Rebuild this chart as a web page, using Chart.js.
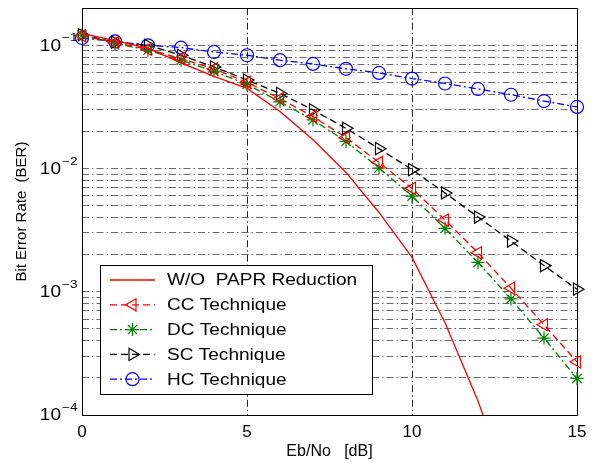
<!DOCTYPE html>
<html><head><meta charset="utf-8">
<script src="https://cdn.jsdelivr.net/npm/chart.js@4.4.0/dist/chart.umd.min.js"></script>
<style>html,body{margin:0;padding:0;background:#fff}#wrap{width:594px;height:463px}</style>
</head><body><div id="wrap"><canvas id="c" width="594" height="463"></canvas></div>
<script>
// ---- data ----
const ebNo = [0,1,2,3,4,5,6,7,8,9,10,11,12,13,14,15];
const berWithoutPAPR = [0.125,0.109,0.095,0.072,0.056,0.0447,0.029,0.0171,0.0093,0.0044,0.0019,0.00056,0.00013,0.000023,0.000003,0.0000003];
const berCC = [0.120,0.105,0.093,0.078,0.0644,0.050,0.0369,0.0264,0.0178,0.0112,0.0069,0.00382,0.00207,0.00107,0.00054,0.00027];
const berDC = [0.121,0.104,0.091,0.0757,0.0617,0.0481,0.0348,0.0248,0.0166,0.0101,0.00597,0.00327,0.00173,0.000875,0.000421,0.000198];
const berSC = [0.1218,0.106,0.100,0.083,0.0668,0.0522,0.0407,0.0299,0.0212,0.0145,0.0098,0.00634,0.00404,0.00258,0.00163,0.00105];
const berHC = [0.1146,0.1076,0.100,0.0957,0.0883,0.083,0.0757,0.0706,0.0644,0.0597,0.0537,0.049,0.0442,0.0397,0.0353,0.0316];
const seriesNames = ['W/O  PAPR Reduction','CC Technique','DC Technique','SC Technique','HC Technique'];
const xTickValues = [0,5,10,15];
const yDecades = [1e-4,1e-3,1e-2,1e-1];
const yExponents = ['\u22124','\u22123','\u22122','\u22121'];
const xTitle = 'Eb/No   [dB]';
const yTitle = 'Bit Error Rate  (BER)';

const pts = arr => ebNo.map((x,i)=>({x:x, y:arr[i]}));
const SX = 1.17; // horizontal stretch of the reference lettering

function stretchedText(ctx, txt, x, y, size, align, baseline){
  ctx.save();
  ctx.font = size + 'px "Liberation Sans", Arial, sans-serif';
  ctx.textAlign = align; ctx.textBaseline = baseline;
  ctx.fillStyle = '#000';
  ctx.translate(x, y); ctx.scale(SX, 1);
  ctx.fillText(txt, 0, 0);
  ctx.restore();
}

const decorPlugin = {
  id: 'decor',
  beforeDatasetsDraw(chart){
    const {ctx, chartArea:a} = chart;
    ctx.save();
    ctx.strokeStyle = '#000'; ctx.lineWidth = 1;
    ctx.strokeRect(Math.round(a.left)+0.5, Math.round(a.top)+0.5, Math.round(a.right-a.left), Math.round(a.bottom-a.top));
    ctx.restore();
  },
  afterDraw(chart){
    const {ctx} = chart;
    const ys = chart.scales.y;
    // y tick labels: 10 with superscript exponent
    yDecades.forEach((v,i)=>{
      const py = ys.getPixelForValue(v);
      stretchedText(ctx, '10', 61, py+1, 16.3, 'right', 'middle');
      stretchedText(ctx, yExponents[i], 62, py-4, 11.6, 'left', 'alphabetic');
    });
    // legend
    const L = {x:100, y:265, w:272, h:129};
    ctx.save();
    ctx.fillStyle = '#fff';
    ctx.fillRect(L.x, L.y, L.w, L.h);
    ctx.strokeStyle = '#000'; ctx.lineWidth = 1;
    ctx.strokeRect(L.x+0.5, L.y+0.5, L.w, L.h);
    ctx.restore();
    chart.data.datasets.forEach((ds,i)=>{
      const ry = 280 + i*24.8;
      ctx.save();
      ctx.strokeStyle = ds.borderColor; ctx.lineWidth = ds.borderWidth;
      ctx.setLineDash(ds.borderDash || []);
      ctx.beginPath(); ctx.moveTo(110, ry); ctx.lineTo(155, ry); ctx.stroke();
      ctx.setLineDash([]);
      if (ds.pointRadius > 0) {
        ctx.strokeStyle = ds.pointBorderColor; ctx.fillStyle = 'rgba(0,0,0,0)';
        ctx.lineWidth = ds.pointBorderWidth;
        Chart.helpers.drawPoint(ctx, {pointStyle: ds.pointStyle, rotation: ds.pointRotation||0, radius: ds.pointRadius, borderWidth: ds.pointBorderWidth}, 132.5, ry);
      }
      ctx.restore();
      stretchedText(ctx, ds.label, 167, ry+1, 16.3, 'left', 'middle');
    });
  }
};

const markerSet = (label, data, color, dash, style, rot, r) => ({
  label, data: pts(data), borderColor: color, borderWidth: 1.3, borderDash: dash,
  pointStyle: style, pointRotation: rot, pointRadius: r, pointBorderColor: color,
  pointBackgroundColor: 'rgba(0,0,0,0)', pointBorderWidth: 1.2, pointHoverRadius: r,
  fill: false, tension: 0, clip: false
});

const gridDash = [7,3,1.5,3];

new Chart(document.getElementById('c'), {
  type: 'line',
  data: {
    datasets: [
      {label: seriesNames[0], data: pts(berWithoutPAPR), borderColor: '#ff0000', borderWidth: 1.3,
       pointRadius: 0, fill: false, tension: 0, clip: 0},
      markerSet(seriesNames[1], berCC, '#ff0000', [7,4], 'triangle', -90, 7),
      markerSet(seriesNames[2], berDC, '#008000', [7,3,2,3], 'star', 0, 6.5),
      markerSet(seriesNames[3], berSC, '#000000', [7,4], 'triangle', 90, 7),
      markerSet(seriesNames[4], berHC, '#0000ff', [7,3,2,3], 'circle', 0, 6.5)
    ]
  },
  options: {
    responsive: false, animation: false, devicePixelRatio: 1,
    layout: {padding: {left: 0, right: 17, top: 6, bottom: 0}},
    plugins: {legend: {display: false}, tooltip: {enabled: false}},
    scales: {
      x: {
        type: 'linear', min: 0, max: 15,
        afterBuildTicks: s => { s.ticks = xTickValues.map(v => ({value: v})); },
        afterFit: s => { s.height = 48; },
        ticks: {color: '#000', font: {family: '"Liberation Sans", Arial, sans-serif', size: 17}, padding: 7, maxRotation: 0},
        grid: {drawTicks: false, color: '#222', lineWidth: 1},
        border: {display: false, dash: gridDash},
        title: {display: true, text: xTitle, color: '#000', font: {family: '"Liberation Sans", Arial, sans-serif', size: 16}, padding: {top: 0, bottom: 2}}
      },
      y: {
        type: 'logarithmic', min: 1e-4, max: 0.2,
        afterBuildTicks: s => {
          const t = [];
          for (let d = -4; d <= -2; d++) for (let m = 1; m <= 9; m++) t.push({value: m * Math.pow(10, d)});
          t.push({value: 0.1}); t.push({value: 0.2});
          s.ticks = t;
        },
        afterFit: s => { s.width = 82; },
        ticks: {display: false, autoSkip: false},
        grid: {drawTicks: false, color: '#6a6a6a', lineWidth: 1},
        border: {display: false, dash: gridDash},
        title: {display: true, text: yTitle, color: '#000', font: {family: '"Liberation Sans", Arial, sans-serif', size: 15}, padding: {top: 13, bottom: 0}}
      }
    }
  },
  plugins: [decorPlugin]
});
</script>
</body></html>
